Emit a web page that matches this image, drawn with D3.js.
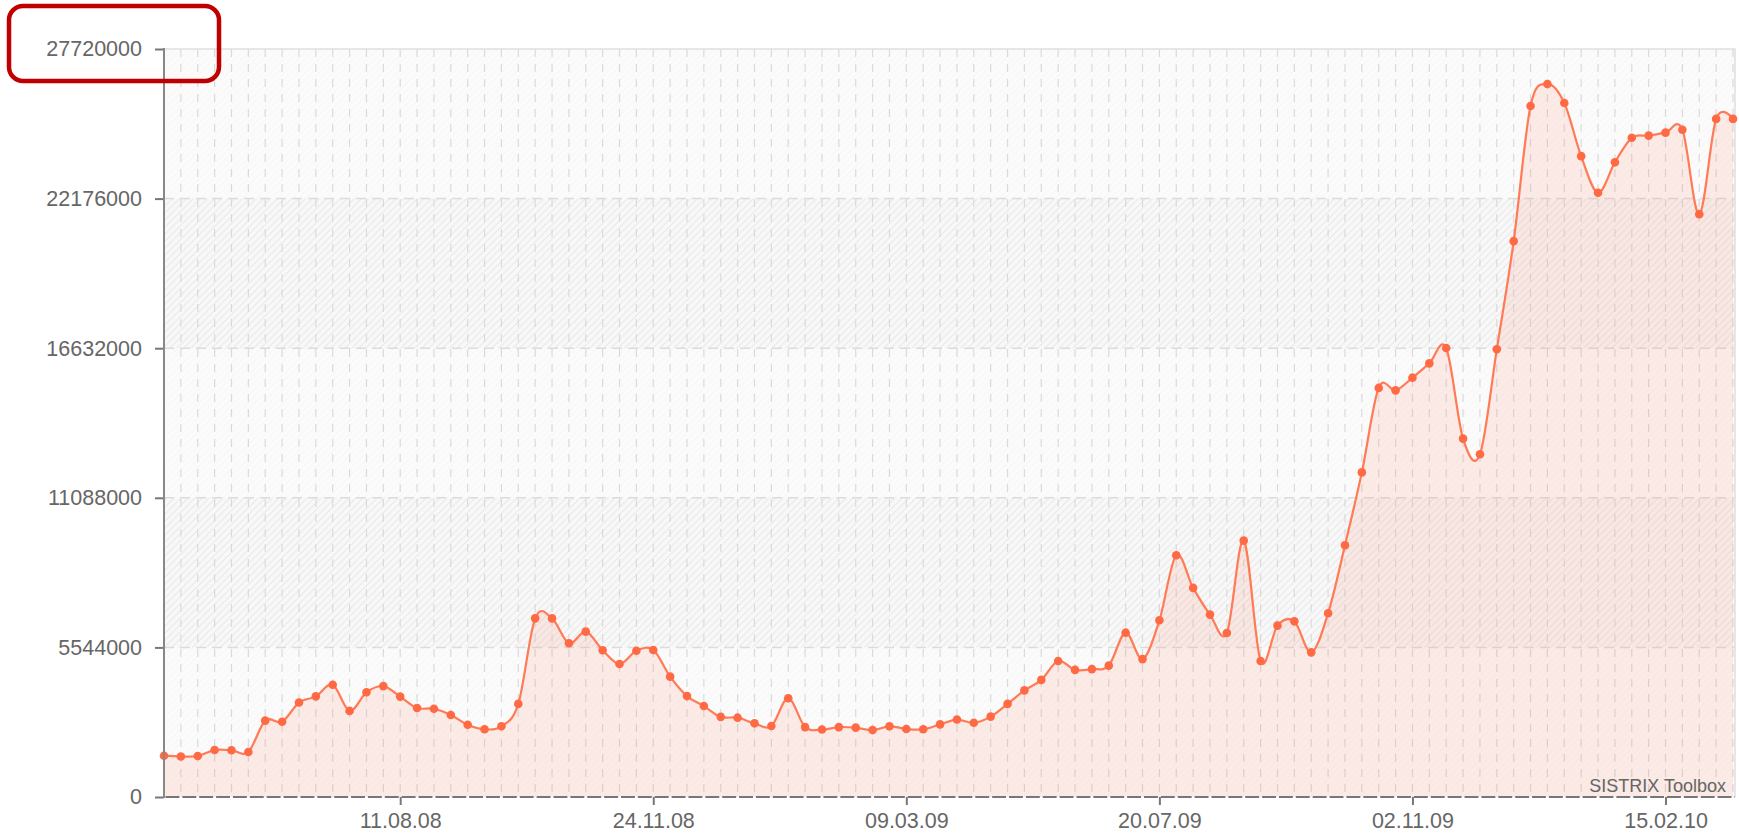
<!DOCTYPE html>
<html>
<head>
<meta charset="utf-8">
<script src="https://cdn.jsdelivr.net/npm/d3@7"></script>
<style>
  html, body { margin: 0; padding: 0; background: #ffffff; }
  svg { display: block; }
</style>
</head>
<body>
<svg id="chart" width="1739" height="836"></svg>
<script>
// ---------------- DATA ----------------
// weekly observations (category axis: one slot per observation)
const values = [
  1530000, 1500000, 1520000, 1740000, 1730000, 1670000, 2830000, 2790000, 3500000, 3730000,
  4160000, 3190000, 3880000, 4110000, 3720000, 3300000, 3270000, 3040000, 2680000, 2510000,
  2620000, 3450000, 6620000, 6620000, 5700000, 6130000, 5440000, 4930000, 5420000, 5450000,
  4460000, 3740000, 3370000, 2970000, 2940000, 2730000, 2630000, 3660000, 2590000, 2500000,
  2590000, 2570000, 2480000, 2620000, 2520000, 2510000, 2690000, 2870000, 2750000, 2980000,
  3450000, 3950000, 4340000, 5040000, 4710000, 4740000, 4870000, 6090000, 5110000, 6550000,
  8960000, 7750000, 6760000, 6080000, 9500000, 5040000, 6350000, 6510000, 5360000, 6810000,
  9330000, 12030000, 15160000, 15070000, 15540000, 16070000, 16640000, 13280000, 12700000, 16590000,
  20600000, 25610000, 26420000, 25720000, 23750000, 22390000, 23520000, 24430000, 24510000, 24620000,
  24730000, 21600000, 25130000, 25130000
];
const yTicks = [0, 5544000, 11088000, 16632000, 22176000, 27720000];
const xTickLabels = ["11.08.08", "24.11.08", "09.03.09", "20.07.09", "02.11.09", "15.02.10"];
const xTickIndex = [14, 29, 44, 59, 74, 89];   // observation each label belongs to
const watermark = "SISTRIX Toolbox";

(function () {
// ---------------- LAYOUT ----------------
const svg = d3.select("#chart");
const pLeft = 164, pRight = 1733, frameRight = 1735, pTop = 49, pBottom = 797;
const font = "'Liberation Sans', Arial, sans-serif";
const fontSize = "21.5px";

const idx = d3.range(values.length);
const data = values.map((v, i) => ({ i: i, value: v }));

const x = d3.scalePoint().domain(idx).range([pLeft, pRight]).padding(0);
const y = d3.scaleLinear().domain([0, yTicks[yTicks.length - 1]]).range([pBottom, pTop]);

// ---------------- BACKGROUND ----------------
const defs = svg.append("defs");
const pat = defs.append("pattern")
  .attr("id", "hatch").attr("patternUnits", "userSpaceOnUse")
  .attr("width", 7).attr("height", 7);
pat.append("rect").attr("width", 7).attr("height", 7).attr("fill", "#f8f8f8");
pat.append("path").attr("d", "M-1,1 l2,-2 M0,7 l7,-7 M6,8 l2,-2")
  .attr("stroke", "#eaeaea").attr("stroke-width", 1.2);

svg.append("rect")
  .attr("x", pLeft).attr("y", pTop)
  .attr("width", frameRight - pLeft).attr("height", pBottom - pTop)
  .attr("fill", "url(#hatch)");

// lighter alternating bands
for (let i = 0; i < yTicks.length - 1; i += 2) {
  svg.append("rect")
    .attr("x", pLeft).attr("y", y(yTicks[i + 1]))
    .attr("width", frameRight - pLeft).attr("height", y(yTicks[i]) - y(yTicks[i + 1]))
    .attr("fill", "#fcfcfc").attr("fill-opacity", 0.7);
}

// vertical dashed gridlines (one per observation)
svg.append("g").selectAll("line").data(idx.slice(1)).join("line")
  .attr("x1", d => x(d)).attr("x2", d => x(d))
  .attr("y1", pTop).attr("y2", pBottom)
  .attr("stroke", "#dadada").attr("stroke-width", 1.2)
  .attr("stroke-dasharray", "8,7");

// horizontal dashed gridlines
svg.append("g").selectAll("line").data(yTicks.slice(1, -1)).join("line")
  .attr("x1", pLeft).attr("x2", frameRight)
  .attr("y1", d => y(d)).attr("y2", d => y(d))
  .attr("stroke", "#dcdcdc").attr("stroke-width", 1.5)
  .attr("stroke-dasharray", "10,6");

// frame top / right
svg.append("path")
  .attr("d", `M${pLeft},${pTop} H${frameRight} V${pBottom}`)
  .attr("fill", "none").attr("stroke", "#e0e0e0").attr("stroke-width", 1.5);

// ---------------- SERIES ----------------
const curve = d3.curveCatmullRom.alpha(0);
const area = d3.area().curve(curve)
  .x(d => x(d.i)).y0(y(0)).y1(d => y(d.value));
const line = d3.line().curve(curve)
  .x(d => x(d.i)).y(d => y(d.value));

svg.append("path").datum(data).attr("d", area)
  .attr("fill", "#ff7650").attr("fill-opacity", 0.12);
svg.append("path").datum(data).attr("d", line)
  .attr("fill", "none").attr("stroke", "#ff7a55").attr("stroke-width", 2.2);
svg.append("g").selectAll("circle").data(data).join("circle")
  .attr("cx", d => x(d.i)).attr("cy", d => y(d.value)).attr("r", 4.3)
  .attr("fill", "#ff6a45");

// ---------------- AXES ----------------
const yAxis = svg.append("g").attr("transform", `translate(${pLeft},0)`)
  .call(d3.axisLeft(y).tickValues(yTicks).tickFormat(d => String(d))
    .tickSize(9).tickSizeOuter(0).tickPadding(13));
yAxis.select(".domain").remove();
yAxis.selectAll(".tick line").attr("stroke", "#777").attr("stroke-width", 2);
yAxis.selectAll("text").attr("fill", "#666").style("font-family", font).style("font-size", fontSize);
svg.append("line").attr("x1", pLeft).attr("x2", pLeft).attr("y1", pTop - 1).attr("y2", pBottom + 1)
  .attr("stroke", "#888").attr("stroke-width", 2);

const xAxis = svg.append("g").attr("transform", `translate(0,${pBottom})`)
  .call(d3.axisBottom(x).tickValues(xTickIndex)
    .tickFormat(d => xTickLabels[xTickIndex.indexOf(d)])
    .tickSize(8).tickSizeOuter(0).tickPadding(8));
xAxis.select(".domain").remove();
xAxis.selectAll(".tick line").attr("stroke", "#777").attr("stroke-width", 2);
xAxis.selectAll("text").attr("fill", "#666").style("font-family", font).style("font-size", fontSize);

// dashed bottom axis line (gaps at each observation slot)
const step = x.step();
svg.append("line").attr("x1", pLeft).attr("x2", frameRight).attr("y1", pBottom).attr("y2", pBottom)
  .attr("stroke", "#777").attr("stroke-width", 2.2)
  .attr("stroke-dasharray", `${step - 3},3`).attr("stroke-dashoffset", -1.5);

// watermark
svg.append("text").attr("x", 1726).attr("y", 792).attr("text-anchor", "end")
  .attr("fill", "#666").style("font-family", font).style("font-size", "18px")
  .text(watermark);

// red annotation box around the top label
svg.append("rect").attr("x", 9).attr("y", 6).attr("width", 210).attr("height", 75)
  .attr("rx", 14).attr("ry", 14)
  .attr("fill", "none").attr("stroke", "#c00000").attr("stroke-width", 4.5);
})();
</script>
</body>
</html>
